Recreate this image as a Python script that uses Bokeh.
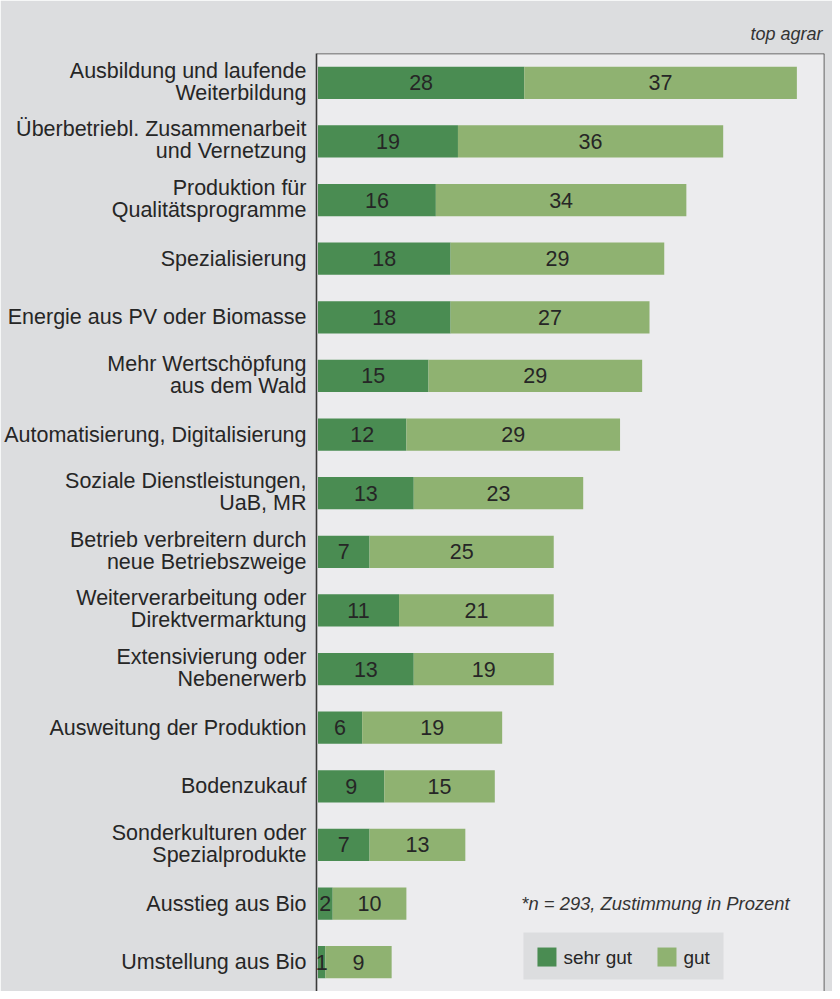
from bokeh.plotting import figure
from bokeh.models import (ColumnDataSource, Label, Span, Range1d, BoxAnnotation,
                          FixedTicker)
from bokeh.embed import file_html
from bokeh.resources import INLINE
from bokeh.core.properties import value

categories = [
    "Ausbildung und laufende\nWeiterbildung",
    "Überbetriebl. Zusammenarbeit\nund Vernetzung",
    "Produktion für\nQualitätsprogramme",
    "Spezialisierung",
    "Energie aus PV oder Biomasse",
    "Mehr Wertschöpfung\naus dem Wald",
    "Automatisierung, Digitalisierung",
    "Soziale Dienstleistungen,\nUaB, MR",
    "Betrieb verbreitern durch\nneue Betriebszweige",
    "Weiterverarbeitung oder\nDirektvermarktung",
    "Extensivierung oder\nNebenerwerb",
    "Ausweitung der Produktion",
    "Bodenzukauf",
    "Sonderkulturen oder\nSpezialprodukte",
    "Ausstieg aus Bio",
    "Umstellung aus Bio",
]
sehr_gut = [28, 19, 16, 18, 18, 15, 12, 13, 7, 11, 13, 6, 9, 7, 2, 1]
gut = [37, 36, 34, 29, 27, 29, 29, 23, 25, 21, 19, 19, 15, 13, 10, 9]
series_names = ["sehr gut", "gut"]
source_note = "top agrar"
note_text = "*n = 293, Zustimmung in Prozent"

DARK = "#4a8c52"
LIGHT = "#8fb271"
FONT = "Liberation Sans"
TXT = "#262626"
EDGE = "#3a3a3a"

N = len(categories)
ROW_PX = 938 / N            # pixel height of one category row
pos = [N - i - 0.5 for i in range(N)]   # row centres, first category on top

src = ColumnDataSource(dict(
    y=pos,
    sg_end=sehr_gut,
    g_end=[a + b for a, b in zip(sehr_gut, gut)],
    sg_mid=[a / 2 for a in sehr_gut],
    g_mid=[a + b / 2 for a, b in zip(sehr_gut, gut)],
    sg_lbl=[str(v) for v in sehr_gut],
    g_lbl=[str(v) for v in gut],
))

XMIN, XMAX = -0.2, 68.75
p = figure(
    width=832, height=991,
    y_range=Range1d(0, N),
    x_range=Range1d(XMIN, XMAX),
    output_backend="svg", toolbar_location=None,
    min_border_left=316, min_border_right=8, min_border_top=53, min_border_bottom=0,
)
p.background_fill_color = "#ececee"
p.border_fill_color = "#dcdddf"
p.outline_line_color = None
p.xgrid.visible = False
p.ygrid.visible = False
p.xaxis.visible = False

r1 = p.hbar(y="y", left=0, right="sg_end", height=0.55, source=src,
            fill_color=DARK, line_color=None)
r2 = p.hbar(y="y", left="sg_end", right="g_end", height=0.55, source=src,
            fill_color=LIGHT, line_color=None)

for xcol, tcol in (("sg_mid", "sg_lbl"), ("g_mid", "g_lbl")):
    p.text(x=xcol, y="y", text=tcol, source=src, text_align="center",
           text_baseline="middle", text_font=value(FONT), text_font_size="21.5px",
           text_color=TXT)

# category labels: one tick per text line, right aligned by the axis
ticks, overrides = [], {}
for c, yc in zip(categories, pos):
    lines = c.split("\n")
    offs = [0] if len(lines) == 1 else [12, -10]
    for t, o in zip(lines, offs):
        tv = round(yc + o / ROW_PX, 5)
        ticks.append(tv)
        overrides[tv] = t

ax = p.yaxis[0]
ax.ticker = FixedTicker(ticks=ticks)
ax.major_label_overrides = overrides
ax.axis_line_color = EDGE
ax.axis_line_width = 1.6
ax.major_tick_line_color = None
ax.minor_tick_line_color = None
ax.major_tick_out = 0
ax.major_tick_in = 0
ax.minor_tick_out = 0
ax.minor_tick_in = 0
ax.major_label_standoff = 10
ax.major_label_text_font = FONT
ax.major_label_text_font_size = "21.5px"
ax.major_label_text_color = TXT

# frame edges (right and top; no bottom edge)
for loc, dim in ((XMAX, "height"), (N, "width")):
    p.add_layout(Span(location=loc, dimension=dim, line_color=EDGE, line_width=1.6))

p.title.text = source_note
p.title.align = "right"
p.title.text_font = FONT
p.title.text_font_style = "italic"
p.title.text_font_size = "18px"
p.title.text_color = "#333333"
p.title.standoff = 19
p.title.offset = 2

p.add_layout(Label(x=27.6, y=1.5, text=note_text, text_font=FONT,
                   text_font_style="italic", text_font_size="18.4px",
                   text_color="#333333", text_baseline="middle"))

# legend box
p.add_layout(BoxAnnotation(left=27.89, right=55.04, bottom=0.205, top=1.006,
                           fill_color="#dcdddf", fill_alpha=1, line_color=None,
                           level="underlay"))
leg = ColumnDataSource(dict(
    x=[31.08, 47.37], y=[0.588, 0.588], tx=[33.32, 49.61],
    color=[DARK, LIGHT], name=series_names))
p.rect(x="x", y="y", width=19, height=19, width_units="screen", height_units="screen",
       fill_color="color", line_color=None, source=leg)
p.text(x="tx", y="y", text="name", source=leg, text_align="left", text_baseline="middle",
       text_font=value(FONT), text_font_size="19px", text_color=TXT)

open("out.html", "w").write(file_html(p, INLINE))
